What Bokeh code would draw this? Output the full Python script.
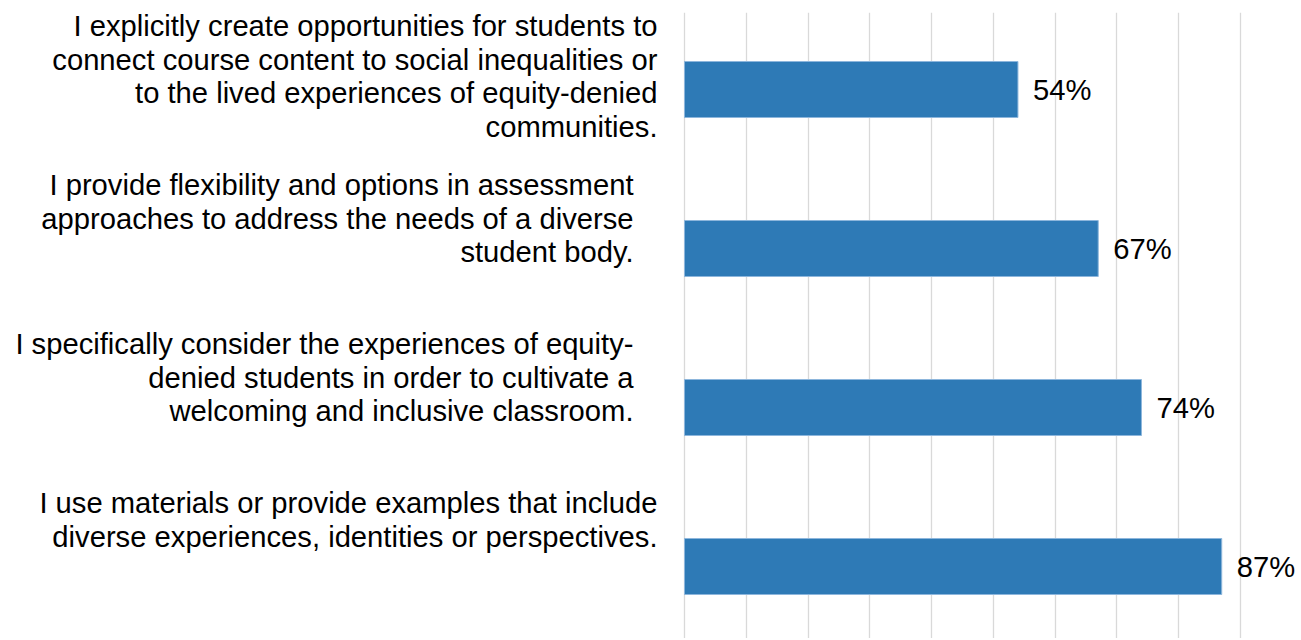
from bokeh.plotting import figure
from bokeh.models import Range1d, FixedTicker, ColumnDataSource
from bokeh.core.properties import value
from bokeh.embed import file_html
from bokeh.resources import INLINE

# ---- data ----
categories = [
    "I explicitly create opportunities for students to\nconnect course content to social inequalities or\nto the lived experiences of equity-denied\ncommunities.",
    "I provide flexibility and options in assessment\napproaches to address the needs of a diverse\nstudent body.",
    "I specifically consider the experiences of equity-\ndenied students in order to cultivate a\nwelcoming and inclusive classroom.",
    "I use materials or provide examples that include\ndiverse experiences, identities or perspectives.",
]
percent_values = [54, 67, 74, 87]
grid_ticks = [0.0, 0.1, 0.2, 0.3, 0.4, 0.5, 0.6, 0.7, 0.8, 0.9]

# ---- layout (pixels) ----
FIG_W, FIG_H = 1299, 638
PAGE_MARGIN = 0
BORDER_TOP = 12
ZERO_PX = 684          # page x of value 0
UNIT_PX = 617.5        # pixels per 100%
FIRST_CENTER_PX = 89   # page y of first bar centre
BAND_PX = 159          # pixels per category
label_x_offsets = [-27, -51, -51, -27]

frame_left = PAGE_MARGIN
frame_right = PAGE_MARGIN + FIG_W
frame_top = PAGE_MARGIN + BORDER_TOP
frame_bottom = PAGE_MARGIN + FIG_H

x_start = (frame_left - ZERO_PX) / UNIT_PX
x_end = (frame_right - ZERO_PX) / UNIT_PX
y_top = (frame_top - FIRST_CENTER_PX) / BAND_PX
y_bottom = (frame_bottom - FIRST_CENTER_PX) / BAND_PX

idx = list(range(len(categories)))
src = ColumnDataSource(dict(
    y=idx,
    x=[v / 100 for v in percent_values],
    cat=categories,
    lbl=[f"{v}%" for v in percent_values],
    xoff=label_x_offsets,
))

p = figure(
    width=FIG_W, height=FIG_H,
    x_range=Range1d(x_start, x_end),
    y_range=Range1d(y_bottom, y_top),
    output_backend="svg", toolbar_location=None,
    min_border_left=0, min_border_right=0,
    min_border_top=BORDER_TOP, min_border_bottom=0,
)
p.xaxis.visible = False
p.yaxis.visible = False
p.ygrid.visible = False
p.xgrid.ticker = FixedTicker(ticks=grid_ticks)
p.xgrid.grid_line_color = "#D9D9D9"
p.xgrid.grid_line_width = 1.3
p.outline_line_color = None
p.background_fill_color = "white"
p.border_fill_color = "white"

p.hbar(y="y", right="x", left=0, height=56 / BAND_PX, source=src,
       fill_color="#2E7AB6", line_color="#8DB6DC", line_width=1)

p.text(x="x", y="y", text="lbl", source=src, x_offset=15,
       text_align="left", text_baseline="middle",
       text_font=value("Liberation Sans"), text_font_size="29.2px",
       text_color="#000000")

p.text(x=0, y="y", text="cat", source=src, x_offset="xoff", y_offset=-79.5,
       text_align="right", text_baseline="top",
       text_font=value("Liberation Sans"), text_font_size="29.2px",
       text_line_height=1.05, text_color="#000000")

open("out.html", "w").write(file_html(p, INLINE))
